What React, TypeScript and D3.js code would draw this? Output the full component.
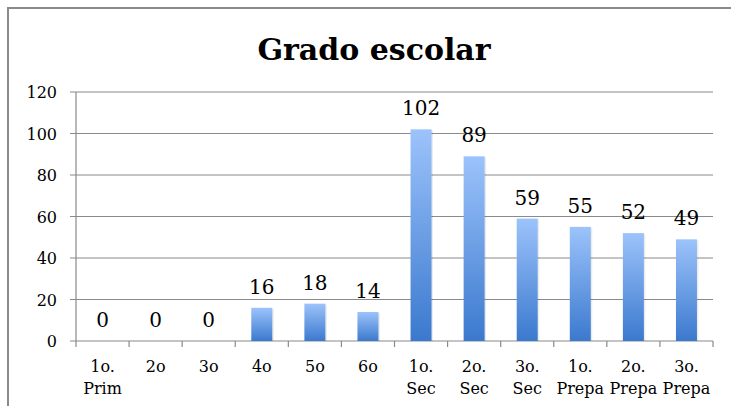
import * as d3 from 'd3';

const categories = [
  ['1o.', 'Prim'],
  ['2o'],
  ['3o'],
  ['4o'],
  ['5o'],
  ['6o'],
  ['1o.', 'Sec'],
  ['2o.', 'Sec'],
  ['3o.', 'Sec'],
  ['1o.', 'Prepa'],
  ['2o.', 'Prepa'],
  ['3o.', 'Prepa'],
];
const values = [0, 0, 0, 16, 18, 14, 102, 89, 59, 55, 52, 49];
const yTicks = [0, 20, 40, 60, 80, 100, 120];

const W = 731;
const H = 406;
const FONT = '"DejaVu Serif", "Liberation Serif", serif';

export default function App() {
  const left = 76;
  const right = 713;
  const top = 92;
  const bottom = 341;

  const x = d3
    .scaleBand<number>()
    .domain(values.map((_, i) => i))
    .range([left, right])
    .paddingInner(0)
    .paddingOuter(0);
  const y = d3.scaleLinear().domain([0, 120]).range([bottom, top]);
  const bw = 21;

  return (
    <svg
      width={W}
      height={H}
      style={{ position: 'absolute', left: 0, top: 0, background: '#fff' }}
    >
      <defs>
        <linearGradient id="barGrad" x1="0" y1="0" x2="0" y2="1">
          <stop offset="0%" stopColor="#9cc3fb" />
          <stop offset="100%" stopColor="#3b79ce" />
        </linearGradient>
      </defs>
      {/* frame */}
      <path d={`M8,${H} V8 H${W}`} fill="none" stroke="#8a8a8a" strokeWidth={2} />

      <text
        x={374}
        y={60}
        textAnchor="middle"
        fontFamily={FONT}
        fontWeight="bold"
        fontSize={30}
        fill="#000"
      >
        Grado escolar
      </text>

      {/* gridlines */}
      {yTicks.map((t) => (
        <g key={t}>
          <line x1={left - 6} x2={right} y1={y(t)} y2={y(t)} stroke="#8a8a8a" strokeWidth={1.2} />
          <text
            x={57}
            y={y(t) + 6}
            textAnchor="end"
            fontFamily={FONT}
            fontSize={16}
            fill="#000"
          >
            {t}
          </text>
        </g>
      ))}
      {/* y axis */}
      <line x1={left} x2={left} y1={top} y2={bottom} stroke="#8a8a8a" strokeWidth={1.2} />
      {/* x ticks */}
      {d3.range(values.length + 1).map((i) => {
        const xx = i < values.length ? x(i)! : right;
        return (
          <line key={i} x1={xx} x2={xx} y1={bottom} y2={bottom + 6} stroke="#8a8a8a" strokeWidth={1.2} />
        );
      })}

      {/* bars */}
      {values.map((v, i) => {
        const cx = x(i)! + x.bandwidth() / 2;
        return (
          <g key={i}>
            {v > 0 && (
              <>
                <rect
                  x={cx - bw / 2 + 1.5}
                  y={y(v) + 1}
                  width={bw}
                  height={bottom - y(v) - 1}
                  fill="#000"
                  opacity={0.08}
                />
                <rect x={cx - bw / 2} y={y(v)} width={bw} height={bottom - y(v)} fill="url(#barGrad)" />
              </>
            )}
            <text
              x={cx}
              y={y(v) - 14}
              textAnchor="middle"
              fontFamily={FONT}
              fontSize={20}
              fill="#000"
            >
              {v}
            </text>
            {categories[i].map((line, j) => (
              <text
                key={j}
                x={cx}
                y={372 + j * 22}
                textAnchor="middle"
                fontFamily={FONT}
                fontSize={16}
                fill="#000"
              >
                {line}
              </text>
            ))}
          </g>
        );
      })}
    </svg>
  );
}
